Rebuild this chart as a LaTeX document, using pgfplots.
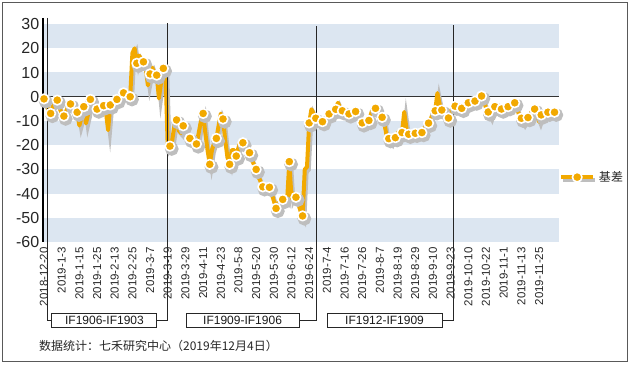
\documentclass[border=0pt]{standalone}
\usepackage{pgfplots}
\pgfplotsset{compat=1.18}
\usepackage{pgfplotstable}
\usepackage{fontspec}
\setmainfont{Liberation Sans}
\newfontfamily\cjk{Noto Sans CJK SC}
\definecolor{band}{RGB}{220,230,241}
\definecolor{orng}{RGB}{242,169,0}
\definecolor{shad}{RGB}{190,190,190}
\pgfplotstableread[row sep=\\]{
i v\\
0 -0.9\\ 1 -3.5\\ 2 -5.5\\ 3 -6.9\\ 4 -4.0\\ 5 -2.5\\ 6 -1.4\\ 7 -4.5\\ 8 -7.0\\
9 -8.0\\ 10 -6.0\\ 11 -4.0\\ 12 -3.0\\ 13 -4.5\\ 14 -5.5\\ 15 -6.4\\ 16 -11.9\\ 17 -8.5\\
18 -4.1\\ 19 -11.0\\ 20 -7.0\\ 21 -1.1\\ 22 -2.5\\ 23 -4.0\\ 24 -5.1\\ 25 -4.5\\ 26 -4.0\\
27 -3.7\\ 28 -6.0\\ 29 -13.8\\ 30 -3.4\\ 31 -2.5\\ 32 -1.8\\ 33 -1.1\\ 34 0.0\\ 35 1.0\\
36 1.6\\ 37 1.0\\ 38 0.5\\ 39 0.0\\ 40 18.0\\ 41 20.0\\ 42 13.8\\ 43 17.0\\ 44 15.5\\
45 14.4\\ 46 12.0\\ 47 4.7\\ 48 9.4\\ 49 12.0\\ 50 9.5\\ 51 8.9\\ 52 -0.7\\ 53 6.0\\
54 11.7\\ 55 10.0\\ 56 -21.5\\ 57 -20.4\\ 58 -18.0\\ 59 -12.0\\ 60 -9.6\\ 61 -14.0\\ 62 -15.0\\
63 -12.0\\ 64 -13.5\\ 65 -15.5\\ 66 -17.2\\ 67 -18.0\\ 68 -19.0\\ 69 -19.5\\ 70 -15.0\\ 71 -10.0\\
72 -6.9\\ 73 -15.0\\ 74 -22.0\\ 75 -27.9\\ 76 -22.0\\ 77 -19.0\\ 78 -17.2\\ 79 -12.0\\ 80 -7.0\\
81 -9.2\\ 82 -18.0\\ 83 -25.0\\ 84 -27.9\\ 85 -22.0\\ 86 -22.0\\ 87 -24.5\\ 88 -21.0\\ 89 -18.0\\
90 -19.0\\ 91 -20.0\\ 92 -22.0\\ 93 -23.1\\ 94 -26.0\\ 95 -28.0\\ 96 -30.0\\ 97 -33.0\\ 98 -35.0\\
99 -37.2\\ 100 -37.0\\ 101 -37.5\\ 102 -37.4\\ 103 -40.0\\ 104 -43.0\\ 105 -46.1\\ 106 -44.0\\ 107 -43.0\\
108 -42.4\\ 109 -42.0\\ 110 -43.0\\ 111 -26.8\\ 112 -42.0\\ 113 -40.0\\ 114 -41.5\\ 115 -44.0\\ 116 -47.0\\
117 -49.2\\ 118 -30.0\\ 119 -29.0\\ 120 -10.8\\ 121 -5.2\\ 122 -7.0\\ 123 -8.9\\ 124 -9.5\\ 125 -10.0\\
126 -10.3\\ 127 -9.0\\ 128 -8.0\\ 129 -7.1\\ 130 -6.5\\ 131 -6.0\\ 132 -5.2\\ 133 -2.5\\ 134 -4.5\\
135 -5.8\\ 136 -6.5\\ 137 -7.0\\ 138 -7.1\\ 139 -6.5\\ 140 -6.5\\ 141 -6.1\\ 142 -8.0\\ 143 -9.5\\
144 -10.8\\ 145 -10.0\\ 146 -9.5\\ 147 -9.8\\ 148 -7.0\\ 149 -4.0\\ 150 -4.8\\ 151 -6.5\\ 152 -8.0\\
153 -8.5\\ 154 -11.0\\ 155 -16.0\\ 156 -17.3\\ 157 -18.7\\ 158 -16.0\\ 159 -16.9\\ 160 -15.0\\ 161 -14.0\\
162 -14.8\\ 163 -6.3\\ 164 -13.0\\ 165 -15.5\\ 166 -15.0\\ 167 -15.5\\ 168 -15.1\\ 169 -15.0\\ 170 -15.0\\
171 -14.8\\ 172 -13.0\\ 173 -12.0\\ 174 -10.9\\ 175 -9.0\\ 176 -7.0\\ 177 -5.8\\ 178 1.5\\ 179 -3.0\\
180 -5.5\\ 181 -6.5\\ 182 -8.0\\ 183 -8.8\\ 184 -6.0\\ 185 -4.5\\ 186 -3.9\\ 187 -4.0\\ 188 -4.5\\
189 -4.8\\ 190 -4.0\\ 191 -3.0\\ 192 -2.5\\ 193 -2.0\\ 194 -2.0\\ 195 -1.8\\ 196 -1.0\\ 197 0.0\\
198 0.3\\ 199 -2.0\\ 200 -4.5\\ 201 -6.3\\ 202 -8.3\\ 203 -5.5\\ 204 -4.1\\ 205 -4.5\\ 206 -5.0\\
207 -5.1\\ 208 -4.5\\ 209 -4.5\\ 210 -4.1\\ 211 -3.5\\ 212 -3.0\\ 213 -2.5\\ 214 -5.0\\ 215 -7.5\\
216 -8.9\\ 217 -10.9\\ 218 -9.5\\ 219 -8.6\\ 220 -7.0\\ 221 -6.0\\ 222 -5.1\\ 223 -8.0\\ 224 -10.3\\
225 -7.5\\ 226 -7.0\\ 227 -6.5\\ 228 -6.4\\ 229 -6.5\\ 230 -6.5\\ 231 -6.4\\
}\basis
\begin{document}
\begin{tikzpicture}
\begin{axis}[
  scale only axis, width=515.5bp, height=218bp,
  xmin=-0.25, xmax=233.03, ymin=-60, ymax=30,
  clip=false,
  axis line style={draw=none},
  major tick length=0pt,
  xtick={0,8,...,224},
  xticklabels={2018-12-20,2019-1-3,2019-1-15,2019-1-25,2019-2-13,2019-2-25,2019-3-7,2019-3-19,2019-3-29,2019-4-11,2019-4-23,2019-5-8,2019-5-20,2019-5-30,2019-6-12,2019-6-24,2019-7-4,2019-7-16,2019-7-26,2019-8-7,2019-8-19,2019-8-29,2019-9-10,2019-9-23,2019-10-10,2019-10-22,2019-11-1,2019-11-13,2019-11-25},
  xticklabel style={rotate=90, anchor=east, inner sep=0pt, font=\fontsize{11.5bp}{12bp}\selectfont, text=black!85},
  xticklabel shift=5bp,
  ytick={-60,-50,...,30},
  yticklabels={-60,-50,-40,-30,-20,-10,0,10,20,30},
  yticklabel style={anchor=east, inner sep=0pt, font=\fontsize{16bp}{17bp}\selectfont, text=black!85},
  yticklabel shift=4bp,
  legend style={at={(axis cs:233.03,-33.2)}, anchor=west, draw=none, fill=none, inner sep=0pt,
     font=\cjk\fontsize{12bp}{13bp}\selectfont, text=black!85},
  legend image code/.code={
     \draw[shad, line width=4bp, mark=none] (1.8bp,-2.8bp) -- (33.8bp,-2.8bp);
     \draw[#1, mark=none] (0bp,0bp) -- (32bp,0bp);
     \draw[#1, only marks] plot coordinates {(16bp,0bp)};
  },
]
% bands
\fill[band] (axis cs:-0.25,20) rectangle (axis cs:233.03,30);
\fill[band] (axis cs:-0.25,0) rectangle (axis cs:233.03,10);
\fill[band] (axis cs:-0.25,-20) rectangle (axis cs:233.03,-10);
\fill[band] (axis cs:-0.25,-40) rectangle (axis cs:233.03,-30);
\fill[band] (axis cs:-0.25,-60) rectangle (axis cs:233.03,-50);
\draw[black!80, line width=0.9bp] (axis cs:-0.25,0) -- (axis cs:233.03,0);
% shadow
\addplot[shad, line width=4bp, xshift=1.8bp, yshift=-2.8bp, mark=*, mark repeat=3,
  mark size=4.8bp, mark options={fill=shad, draw=shad}, forget plot] table[x=i, y=v] {\basis};
% main
\addplot[orng, line width=4bp, line join=round, mark=*, mark repeat=3, mark size=4.8bp,
  mark options={fill=orng, draw=white, line width=1.6bp}] table[x=i, y=v] {\basis};
\addlegendentry{基差}
% y axis
\draw[black, line width=2bp] (axis cs:-0.25,32.5) -- (axis cs:-0.25,-60);
% brackets
\draw[black!85, line width=1bp] (axis cs:1.36,32.5) -- (axis cs:1.36,-92.2) -- (axis cs:3.6,-92.2);
\draw[black!85, line width=1bp] (axis cs:51.1,-92.2) -- (axis cs:56.1,-92.2) -- (axis cs:56.1,30.4);
\draw[black!85, line width=1bp] (axis cs:115.4,-92.2) -- (axis cs:123.1,-92.2) -- (axis cs:123.1,29);
\draw[black!85, line width=1bp] (axis cs:180.1,-92.2) -- (axis cs:185.5,-92.2) -- (axis cs:185.5,29.5);
\node[draw=black!85, line width=1bp, fill=white, minimum width=105bp, minimum height=14bp, inner sep=0pt,
  font=\fontsize{12bp}{13bp}\selectfont, text=black!90] at (axis cs:27.35,-92.2) {IF1906-IF1903};
\node[draw=black!85, line width=1bp, fill=white, minimum width=113bp, minimum height=14bp, inner sep=0pt,
  font=\fontsize{12bp}{13bp}\selectfont, text=black!90] at (axis cs:89.85,-92.2) {IF1909-IF1906};
\node[draw=black!85, line width=1bp, fill=white, minimum width=115bp, minimum height=14bp, inner sep=0pt,
  font=\fontsize{12bp}{13bp}\selectfont, text=black!90] at (axis cs:154.1,-92.2) {IF1912-IF1909};
% source
\node[anchor=west, inner sep=0pt, font=\cjk\fontsize{12bp}{13bp}\selectfont, text=black!85]
  at (axis cs:-2.3,-102.9) {数据统计：七禾研究中心（2019年12月4日）};
% frame
\draw[black!65, line width=1bp] (axis cs:-19.0,39.1) rectangle (axis cs:263.8,-109.5);
\coordinate (BL) at (axis cs:-19.91,-110.78);
\coordinate (TR) at (axis cs:265.61,39.93);
\end{axis}
\pgfresetboundingbox
\path (BL) rectangle (TR);
\end{tikzpicture}
\end{document}
